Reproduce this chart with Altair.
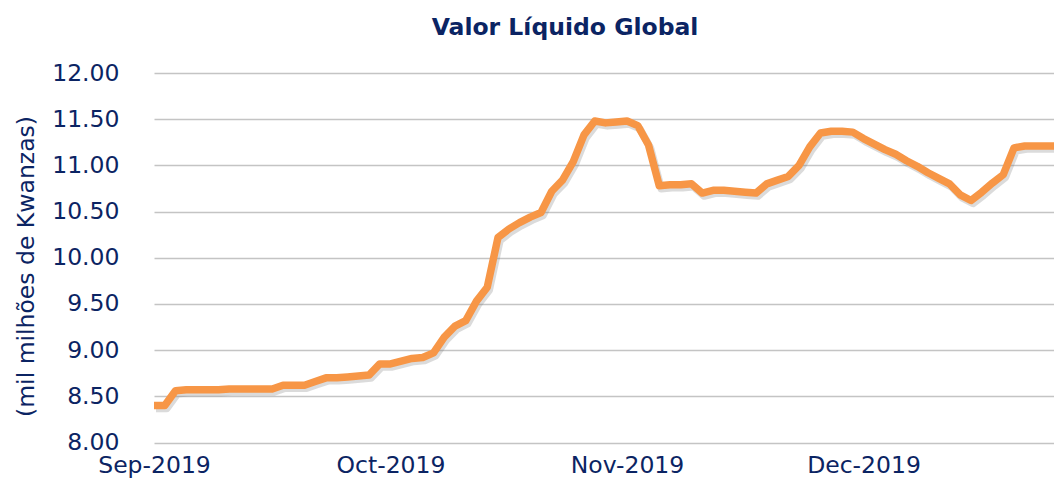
import altair as alt
import pandas as pd

# Valor Líquido Global (mil milhões de Kwanzas), one value per business day
values = [
    8.40, 8.40, 8.56, 8.57, 8.57, 8.57, 8.57, 8.58, 8.58, 8.58,
    8.58, 8.58, 8.62, 8.62, 8.62, 8.66, 8.70, 8.70, 8.71, 8.72,
    8.73, 8.85, 8.85, 8.88, 8.91, 8.92, 8.97, 9.14, 9.26, 9.32,
    9.53, 9.68, 10.22, 10.31, 10.38, 10.44, 10.49, 10.72, 10.84, 11.04,
    11.33, 11.48, 11.46, 11.47, 11.48, 11.43, 11.22, 10.78, 10.79, 10.79,
    10.80, 10.70, 10.73, 10.73, 10.72, 10.71, 10.70, 10.80, 10.84, 10.88,
    11.00, 11.20, 11.35, 11.37, 11.37, 11.36, 11.29, 11.23, 11.17, 11.12,
    11.05, 10.99, 10.92, 10.86, 10.80, 10.68, 10.62, 10.71, 10.81, 10.90,
    11.19, 11.21, 11.21, 11.21, 11.21, 11.21,
]
day_index = list(range(len(values)))

month_labels = ["Sep-2019", "Oct-2019", "Nov-2019", "Dec-2019"]
month_label_index = [0, 22, 44, 66]
y_ticks = [8.0, 8.5, 9.0, 9.5, 10.0, 10.5, 11.0, 11.5, 12.0]

df = pd.DataFrame({"idx": day_index, "valor": values})

FONT = "DejaVu Sans"
NAVY = "#0B2463"
ORANGE = "#F79646"

label_expr = (
    "[" + ",".join(f"'{m}'" for m in month_labels) + "]"
    + "[indexof([" + ",".join(str(i) for i in month_label_index) + "], datum.value)]"
)

x_enc = alt.X(
    "idx:Q",
    scale=alt.Scale(domain=[0, 83.72], nice=False, zero=False),
    axis=alt.Axis(
        values=month_label_index,
        labelExpr=label_expr,
        title=None,
        grid=False,
        domain=False,
        ticks=False,
        labelPadding=11,
        labelFontSize=23.5,
        labelFont=FONT,
        labelColor=NAVY,
        labelFlush=False,
        labelOverlap=False,
    ),
)
y_enc = alt.Y(
    "valor:Q",
    scale=alt.Scale(domain=[8, 12], nice=False, zero=False),
    axis=alt.Axis(
        values=y_ticks,
        format=".2f",
        title="(mil milhões de Kwanzas)",
        domain=False,
        ticks=False,
        grid=True,
        gridColor="#C4C4C4",
        gridWidth=1.6,
        labelPadding=35,
        labelFontSize=23.5,
        labelFont=FONT,
        labelColor=NAVY,
        titleFont=FONT,
        titleFontSize=23.5,
        titleFontWeight="normal",
        titleColor=NAVY,
        titlePadding=13,
        titleY=193,
    ),
)

shadow = alt.Chart(df).mark_line(
    color="#7F7F7F", opacity=0.28, strokeWidth=7.5, xOffset=2, yOffset=3,
    clip=True, strokeJoin="round",
).encode(x=x_enc, y=y_enc)

line = alt.Chart(df).mark_line(
    color=ORANGE, strokeWidth=7.5, clip=True, strokeJoin="round",
).encode(x=x_enc, y=y_enc)

chart = (
    alt.layer(shadow, line)
    .properties(
        width=900,
        height=369.5,
        title=alt.TitleParams(
            "Valor Líquido Global",
            font=FONT,
            fontSize=23.5,
            fontWeight="bold",
            color=NAVY,
            anchor="middle",
            dx=-39,
            offset=22,
        ),
        autosize=alt.AutoSizeParams(type="none"),
        padding={"left": 146, "top": 65, "right": 0, "bottom": 36},
    )
    .configure_view(stroke=None)
)

chart.save("out.html", embed_options={"renderer": "svg", "actions": False})
